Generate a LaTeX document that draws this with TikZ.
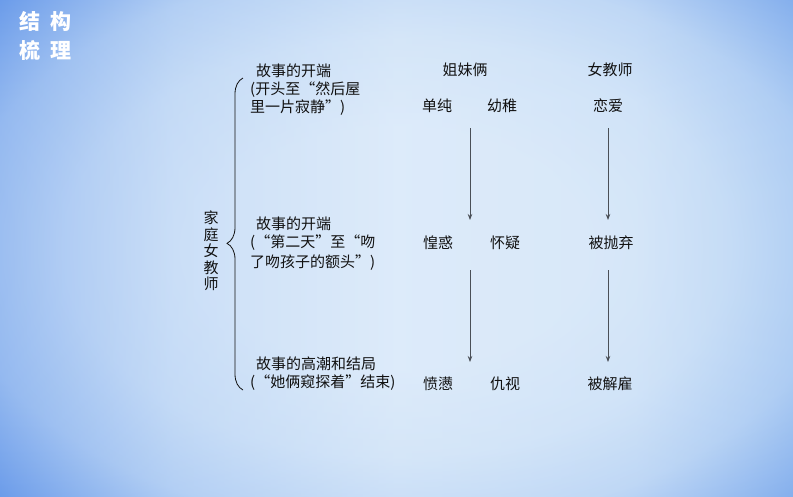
\documentclass[tikz,border=0pt]{standalone}
\usepackage{fontspec}
\setmainfont{Noto Sans CJK SC}
\usetikzlibrary{arrows.meta, calc, decorations.pathreplacing}
\definecolor{bgcenter}{HTML}{DDEBFA}
\definecolor{bglight}{HTML}{D0E3F8}
\definecolor{bgmid}{HTML}{B4D0F4}
\definecolor{bgouter}{HTML}{6F9FEA}
\definecolor{bgleft}{HTML}{6597EA}
\definecolor{bgleftmid}{HTML}{B2CEF4}
\definecolor{bgright}{HTML}{A4C7F2}
\definecolor{textdark}{HTML}{111111}
\definecolor{arrowgray}{HTML}{4A4F57}
\pgfdeclarehorizontalshading{backsweep}{100bp}{%
    color(0bp)=(bgleft); color(25bp)=(bgleft); color(36bp)=(bgleftmid);
    color(50bp)=(bgcenter); color(65bp)=(bglight); color(75bp)=(bgright); color(100bp)=(bgright)}
\pgfdeclareradialshading{backglow}{\pgfpoint{0bp}{0bp}}{%
    color(0bp)=(bgcenter); color(12bp)=(bgcenter); color(21bp)=(bglight);
    color(28bp)=(bgmid); color(35.5bp)=(bgouter); color(50bp)=(bgouter)}

\begin{document}
\begin{tikzpicture}[
    x=1pt, y=-1pt,
    every node/.style={inner sep=0pt, text=textdark, font=\fontsize{15}{18}\selectfont},
    >=Stealth,
    stage/.style={anchor=west},
    word/.style={anchor=center},
    flow/.style={-{Stealth[length=6pt, width=4.5pt]}, draw=arrowgray, line width=0.8pt},
]

% Background
\shade[shading=backsweep] (0,0) rectangle (793,496);
\shade[shading=backglow, opacity=0.6] (0,0) rectangle (793,496);
\useasboundingbox (0,0) rectangle (793,496);

% Title
\node[text=white, font=\fontsize{21}{29}\selectfont\bfseries, align=left, anchor=north west]
    (title) at (19,11) {结\hspace{10pt}构\\梳\hspace{10pt}理};

% =============================================
% LEFT: STAGES OF THE STORY
% =============================================
\node[align=center, font=\fontsize{15}{16.5}\selectfont] (topic) at (211,251) {家\\庭\\女\\教\\师};

\draw[textdark, line width=0.8pt, decorate, decoration={brace, amplitude=16pt, aspect=0.47}]
    (243,390) -- (243,78);

% Stage 1
\node[stage] (s1) at (256,71) {故事的开端};
\node[stage] (s1a) at (250,90) {(开头至“然后屋};
\node[stage] (s1b) at (250,108) {里一片寂静”)};

% Stage 2
\node[stage] (s2) at (256,224) {故事的开端};
\node[stage] (s2a) at (250,243) {(“第二天”至“吻};
\node[stage] (s2b) at (250,263) {了吻孩子的额头”)};

% Stage 3
\node[stage] (s3) at (256,364) {故事的高潮和结局};
\node[stage] (s3a) at (250,383) {(“她俩窥探着”结束)};

% =============================================
% RIGHT: CHARACTERS AND FEELINGS
% =============================================
\node[word] (sisters) at (465,70) {姐妹俩};
\node[word] (teacher) at (610,70) {女教师};

% row 1
\node[word] (danchun) at (437,106) {单纯};
\node[word] (youzhi) at (502,106) {幼稚};
\node[word] (lianai) at (608,106) {恋爱};

% row 2
\node[word] (huanghuo) at (438,243) {惶惑};
\node[word] (huaiyi) at (505,243) {怀疑};
\node[word] (paoqi) at (611,243) {被抛弃};

% row 3
\node[word] (fenmen) at (438,384) {愤懑};
\node[word] (choushi) at (505,384) {仇视};
\node[word] (jiegu) at (610,384) {被解雇};

% columns of the arrows
\coordinate (colA) at (470,0);
\coordinate (colB) at (608,0);

% === ARROWS ===
\draw[flow, shorten <=22pt, shorten >=23pt] (colA |- danchun) -- (colA |- huanghuo);
\draw[flow, shorten <=27pt, shorten >=22pt] (colA |- huanghuo) -- (colA |- fenmen);
\draw[flow, shorten <=22pt, shorten >=23pt] (colB |- lianai) -- (colB |- paoqi);
\draw[flow, shorten <=27pt, shorten >=22pt] (colB |- paoqi) -- (colB |- jiegu);

\end{tikzpicture}
\end{document}
